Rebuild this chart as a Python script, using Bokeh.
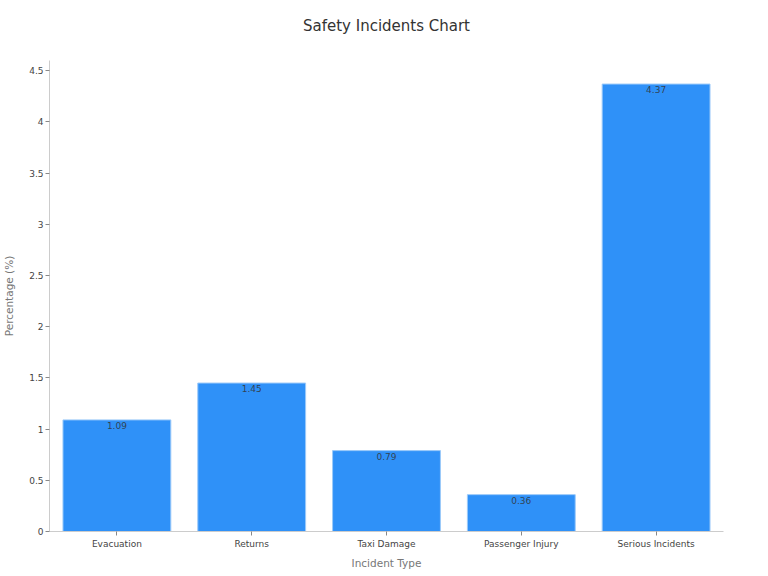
from bokeh.plotting import figure
from bokeh.models import ColumnDataSource, Range1d, FixedTicker, CategoricalAxis
from bokeh.core.properties import value
from bokeh.embed import file_html
from bokeh.resources import INLINE

categories = ["Evacuation", "Returns", "Taxi Damage", "Passenger Injury", "Serious Incidents"]
percentages = [1.09, 1.45, 0.79, 0.36, 4.37]
label_texts = ["1.09", "1.45", "0.79", "0.36", "4.37"]
y_ticks = [0, 0.5, 1, 1.5, 2, 2.5, 3, 3.5, 4, 4.5]
chart_title = "Safety Incidents Chart"

src = ColumnDataSource(dict(cat=categories, val=percentages, lab=label_texts))

FONT = "DejaVu Sans"

p = figure(x_range=categories, y_range=Range1d(0, 4.6),
           frame_width=674, frame_height=471,
           output_backend="svg", toolbar_location=None,
           min_border_left=48, min_border_right=30, min_border_top=60, min_border_bottom=40)

p.vbar(x="cat", top="val", width=0.8, source=src, fill_color="#2f91f8",
       line_color="#9ccaf9", line_width=1)
p.text(x="cat", y="val", text="lab", source=src, text_align="center",
       text_baseline="top", y_offset=2, text_font=value(FONT), text_font_size="9px",
       text_color="#333333", text_alpha=0.85)

# chart title drawn as the label of a bare axis above the frame
title_axis = CategoricalAxis(axis_line_color=None, major_tick_line_color=None,
                             minor_tick_line_color=None, major_label_text_font_size="0px",
                             major_tick_out=0, major_tick_in=0, major_label_standoff=0,
                             axis_label=chart_title, axis_label_standoff=26,
                             axis_label_text_font=FONT, axis_label_text_font_size="15px",
                             axis_label_text_font_style="normal",
                             axis_label_text_color="#333333")
p.add_layout(title_axis, "above")

p.xgrid.grid_line_color = None
p.ygrid.grid_line_color = None
p.outline_line_color = None

xax = p.below[0]
yax = p.left[0]
yax.ticker = FixedTicker(ticks=y_ticks)
xax.axis_label = "Incident Type"
yax.axis_label = "Percentage (%)"
for ax in (xax, yax):
    ax.axis_line_color = "#cccccc"
    ax.major_tick_line_color = "#888888"
    ax.minor_tick_line_color = None
    ax.major_tick_out = 4
    ax.major_tick_in = 0
    ax.major_label_text_font = FONT
    ax.major_label_text_font_size = "9px"
    ax.major_label_text_color = "#444444"
    ax.axis_label_text_font = FONT
    ax.axis_label_text_font_size = "10.5px"
    ax.axis_label_text_font_style = "normal"
    ax.axis_label_text_color = "#777777"
xax.major_label_standoff = 3
xax.axis_label_standoff = 5
yax.major_label_standoff = 2
yax.axis_label_standoff = 11

open("out.html", "w").write(file_html(p, INLINE))
